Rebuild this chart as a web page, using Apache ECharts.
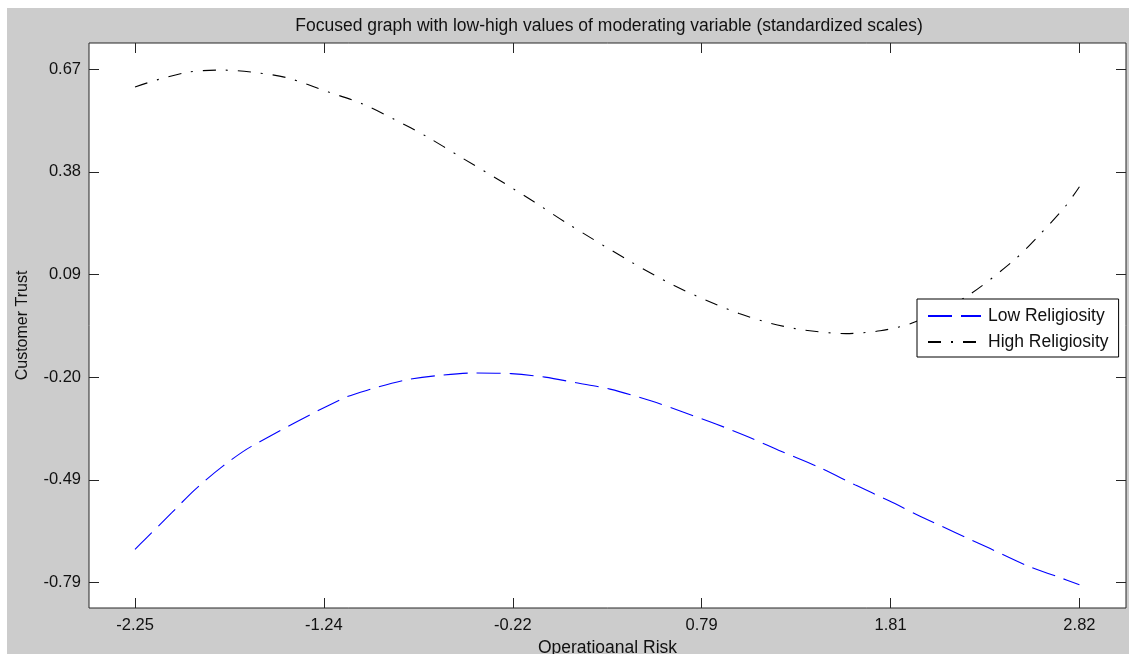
<!DOCTYPE html>
<html>
<head>
<meta charset="utf-8">
<script src="https://cdn.jsdelivr.net/npm/echarts@6/dist/echarts.min.js"></script>
<style>
  body { margin:0; background:#fff; overflow:hidden; }
  #main { position:absolute; left:7px; top:8px; width:1122px; height:646px; }
</style>
</head>
<body>
<div id="main"></div>
<script>
// ticks and labels
var xTicks = [-2.25, -1.236, -0.222, 0.792, 1.806, 2.82];
var xTickLabels = ['-2.25', '-1.24', '-0.22', '0.79', '1.81', '2.82'];
var yTicks = [0.67, 0.378, 0.086, -0.206, -0.498, -0.79];
var yTickLabels = ['0.67', '0.38', '0.09', '-0.20', '-0.49', '-0.79'];

// Low Religiosity
var lowX = [-2.25, -2.199, -2.051, -1.928, -1.780, -1.625, -1.144, -0.983, -0.806, -0.634, -0.425, -0.231, -0.049, 0.118, 0.300, 0.523, 0.695, 0.872, 1.047, 1.218, 1.420, 1.621, 1.798, 1.970, 2.341, 2.545, 2.703, 2.82];
var lowY = [-0.696, -0.669, -0.591, -0.526, -0.460, -0.403, -0.269, -0.240, -0.215, -0.202, -0.194, -0.196, -0.206, -0.222, -0.240, -0.274, -0.306, -0.340, -0.377, -0.417, -0.462, -0.514, -0.558, -0.603, -0.694, -0.744, -0.774, -0.797];
// High Religiosity
var highX = [-2.25, -2.132, -1.965, -1.783, -1.606, -1.434, -1.214, -1.031, -0.859, -0.682, -0.510, -0.280, -0.108, 0.069, 0.413, 0.639, 0.816, 0.993, 1.165, 1.342, 1.567, 1.750, 1.922, 2.206, 2.469, 2.604, 2.743, 2.82];
var highY = [0.620, 0.640, 0.662, 0.668, 0.661, 0.646, 0.606, 0.572, 0.528, 0.478, 0.423, 0.350, 0.293, 0.232, 0.122, 0.056, 0.013, -0.025, -0.053, -0.072, -0.082, -0.074, -0.052, 0.021, 0.127, 0.198, 0.279, 0.336];

var font = '"Liberation Sans", Arial, sans-serif';
var txt = '#111';

function pairs(xs, ys) {
    return xs.map(function (x, i) { return [x, ys[i]]; });
}
function xLab(v) {
    var i = xTicks.indexOf(v);
    return i < 0 ? '' : xTickLabels[i];
}
function yLab(v) {
    var i = yTicks.indexOf(v);
    return i < 0 ? '' : yTickLabels[i];
}

var tickStyle = { color: '#262626', width: 1 };

var myChart = echarts.init(document.getElementById('main'));
myChart.setOption({
    backgroundColor: '#cccccc',
    animation: false,
    title: {
        text: 'Focused graph with low-high values of moderating variable (standardized scales)',
        left: 597,
        top: 4,
        textAlign: 'center',
        textStyle: { fontFamily: font, fontSize: 17.5, fontWeight: 'normal', color: txt }
    },
    grid: {
        left: 82, top: 35, right: 3, bottom: 46,
        outerBoundsMode: 'none',
        containLabel: false,
        show: true,
        backgroundColor: '#ffffff',
        borderColor: '#262626',
        borderWidth: 1
    },
    legend: {
        orient: 'vertical',
        left: 910,
        top: 291,
        padding: [8, 10, 6, 10],
        itemGap: 8,
        itemWidth: 53,
        itemHeight: 14,
        backgroundColor: '#ffffff',
        borderColor: '#000000',
        borderWidth: 1,
        borderRadius: 0,
        itemStyle: { opacity: 0 },
        textStyle: { fontFamily: font, fontSize: 17.5, color: txt, lineHeight: 18, padding: [0, 0, 0, 2] },
        data: ['Low Religiosity', 'High Religiosity']
    },
    xAxis: [{
        type: 'value',
        min: -2.497,
        max: 3.07,
        name: 'Operatioanal Risk',
        nameLocation: 'middle',
        nameGap: 27,
        nameTextStyle: { fontFamily: font, fontSize: 17.5, color: txt },
        axisLine: { show: false, onZero: false },
        splitLine: { show: false },
        axisTick: { inside: true, length: 10, lineStyle: tickStyle, customValues: xTicks },
        axisLabel: { margin: 9, fontFamily: font, fontSize: 16.5, color: txt, customValues: xTicks, formatter: xLab }
    }, {
        type: 'value',
        position: 'top',
        min: -2.497,
        max: 3.07,
        axisLine: { show: false, onZero: false },
        splitLine: { show: false },
        axisTick: { inside: true, length: 10, lineStyle: tickStyle, customValues: xTicks },
        axisLabel: { show: false }
    }],
    yAxis: [{
        type: 'value',
        min: -0.863,
        max: 0.745,
        name: 'Customer Trust',
        nameLocation: 'middle',
        nameGap: 58,
        nameRotate: 90,
        nameTextStyle: { fontFamily: font, fontSize: 16, color: txt },
        axisLine: { show: false, onZero: false },
        splitLine: { show: false },
        axisTick: { inside: true, length: 10, lineStyle: tickStyle, customValues: yTicks },
        axisLabel: { margin: 8, fontFamily: font, fontSize: 16.5, color: txt, customValues: yTicks, formatter: yLab }
    }, {
        type: 'value',
        position: 'right',
        min: -0.863,
        max: 0.745,
        axisLine: { show: false, onZero: false },
        splitLine: { show: false },
        axisTick: { inside: true, length: 10, lineStyle: tickStyle, customValues: yTicks },
        axisLabel: { show: false }
    }],
    series: [{
        name: 'Low Religiosity',
        type: 'line',
        symbol: 'none',
        smooth: 0.3,
        color: '#0000ff',
        lineStyle: { color: '#0000ff', width: 1.1, type: [24, 9] },
        data: pairs(lowX, lowY)
    }, {
        name: 'High Religiosity',
        type: 'line',
        symbol: 'none',
        smooth: 0.3,
        color: '#000000',
        lineStyle: { color: '#000000', width: 1.1, type: [13, 10, 2, 10] },
        data: pairs(highX, highY)
    }]
});
</script>
</body>
</html>
